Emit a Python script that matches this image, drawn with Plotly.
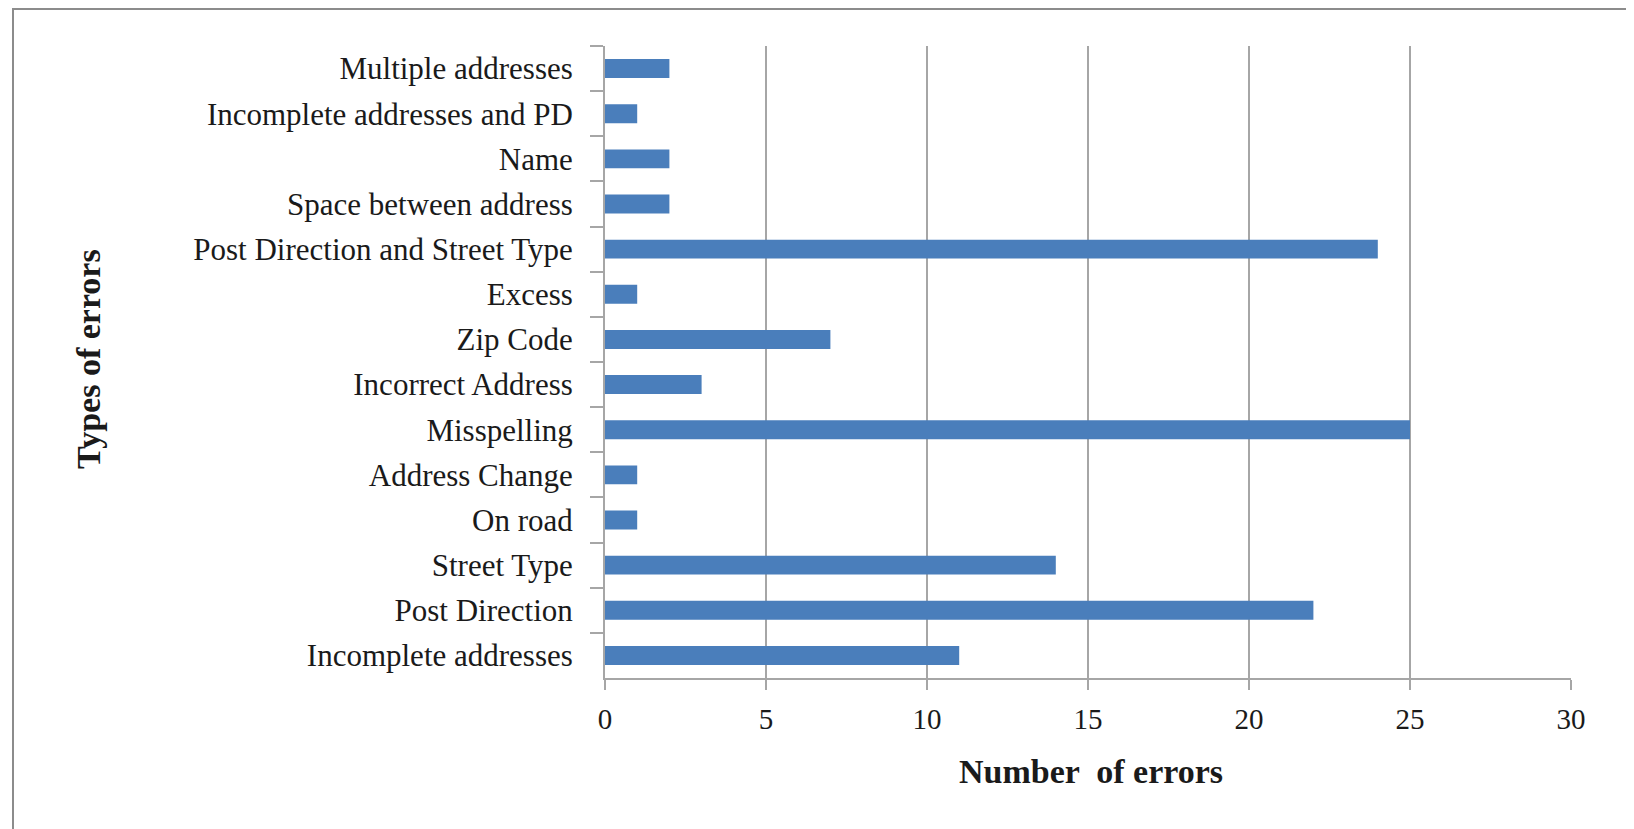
import plotly.graph_objects as go

categories = [
    "Multiple addresses",
    "Incomplete addresses and PD",
    "Name",
    "Space between address",
    "Post Direction and Street Type",
    "Excess",
    "Zip Code",
    "Incorrect Address",
    "Misspelling",
    "Address Change",
    "On road",
    "Street Type",
    "Post Direction",
    "Incomplete addresses",
]
errors = [2, 1, 2, 2, 24, 1, 7, 3, 25, 1, 1, 14, 22, 11]
x_ticks = [0, 5, 10, 15, 20, 25, 30]

W, H = 1634, 829
L, R, T, B = 597, 71, 38, 159
pw, ph = W - L - R, H - T - B

def px(x):
    return (x - L) / pw

def py(y):
    return (H - B - y) / ph

FONT = "Liberation Serif"
GRID = "#a6a6a6"
TXT = "#1a1a1a"

fig = go.Figure(
    go.Bar(
        x=errors,
        y=categories,
        orientation="h",
        marker=dict(color="#4a7ebb", line=dict(width=0)),
        width=0.42,
    )
)

fig.update_layout(
    width=W,
    height=H,
    margin=dict(l=L, r=R, t=T, b=B),
    paper_bgcolor="white",
    plot_bgcolor="white",
    showlegend=False,
    font=dict(family=FONT, size=30, color=TXT),
    xaxis=dict(
        range=[0, 30],
        tickvals=x_ticks,
        ticktext=[str(v) for v in x_ticks],
        showgrid=True,
        gridcolor=GRID,
        gridwidth=2,
        zeroline=False,
        showline=True,
        linecolor=GRID,
        linewidth=2,
        ticks="outside",
        ticklen=10,
        tickcolor=GRID,
        tickwidth=2,
        tickfont=dict(family=FONT, size=29, color=TXT),
        ticklabelstandoff=4,
    ),
    yaxis=dict(
        autorange="reversed",
        showgrid=False,
        zeroline=False,
        showline=True,
        linecolor=GRID,
        linewidth=2,
        ticks="outside",
        tickson="boundaries",
        ticklen=13,
        tickcolor=GRID,
        tickwidth=2,
        tickfont=dict(family=FONT, size=31, color=TXT),
        ticklabelstandoff=24,
    ),
    annotations=[
        dict(
            text="<b>Number  of errors</b>",
            x=px(1083), y=py(763), xref="paper", yref="paper",
            showarrow=False, xanchor="center", yanchor="middle",
            font=dict(family=FONT, size=34, color=TXT),
        ),
        dict(
            text="<b>Types of errors</b>",
            x=px(80), y=py(351), xref="paper", yref="paper",
            showarrow=False, xanchor="center", yanchor="middle", textangle=-90,
            font=dict(family=FONT, size=34, color=TXT),
        ),
    ],
    shapes=[
        dict(
            type="rect", xref="paper", yref="paper",
            x0=px(5), x1=px(1640), y0=py(840), y1=py(1),
            line=dict(color="#8c8c8c", width=2), fillcolor="rgba(0,0,0,0)",
            layer="below",
        )
    ],
)

fig.write_html("out.html")
